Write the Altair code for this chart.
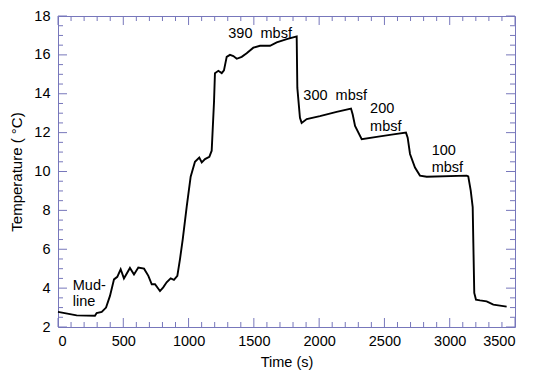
import altair as alt
import pandas as pd

# ---- data ----
time_s = [0, 143, 283, 296, 335, 368, 398, 429, 454, 480, 505, 551, 582, 615, 659, 692, 718, 743,
          781, 806, 832, 863, 888, 914, 934, 955, 986, 1016, 1049, 1082, 1101, 1126, 1159, 1177,
          1195, 1202, 1228, 1254, 1271, 1292, 1317, 1343, 1369, 1407, 1445, 1496, 1547, 1624, 1675,
          1752, 1815, 1828, 1833, 1853, 1866, 1905, 2006, 2134, 2244, 2257, 2275, 2326, 2441, 2568,
          2665, 2678, 2696, 2734, 2772, 2824, 3130, 3142, 3161, 3176, 3181, 3188, 3201, 3232, 3283,
          3334, 3385, 3436]
temp_c = [2.78, 2.6, 2.58, 2.72, 2.78, 3.0, 3.6, 4.45, 4.58, 4.97, 4.5, 5.04, 4.7, 5.06, 5.0, 4.63,
          4.2, 4.2, 3.85, 4.04, 4.3, 4.5, 4.43, 4.63, 5.48, 6.5, 8.2, 9.73, 10.5, 10.72, 10.47, 10.64,
          10.76, 11.07, 13.6, 15.06, 15.18, 15.06, 15.2, 15.9, 16.0, 15.94, 15.8, 15.9, 16.08, 16.37,
          16.47, 16.47, 16.64, 16.81, 16.93, 16.95, 14.3, 12.76, 12.5, 12.7, 12.85, 13.07, 13.24,
          12.93, 12.34, 11.66, 11.78, 11.91, 12.0, 11.74, 10.9, 10.2, 9.79, 9.73, 9.79, 9.75, 9.02,
          8.17, 6.3, 3.75, 3.41, 3.37, 3.32, 3.15, 3.1, 3.05]

label_text = ["Mud-", "line", "390\u00a0\u00a0mbsf", "300\u00a0\u00a0mbsf", "200", "mbsf", "100", "mbsf"]
label_t = [113, 113, 1304, 1879, 2390, 2390, 2862, 2862]
label_T = [4.09, 3.31, 17.05, 13.87, 13.19, 12.29, 11.03, 10.18]

x_major = [0, 500, 1000, 1500, 2000, 2500, 3000, 3500]
x_minor = [v for v in range(0, 3501, 100) if v % 500 != 0]
y_major = [2, 4, 6, 8, 10, 12, 14, 16, 18]
y_minor = [2.5 + 0.5 * i for i in range(31) if (2.5 + 0.5 * i) % 2 != 0]

W, H = 457, 311
FRAME = "#7777bb"
FONT = "Liberation Sans"
FS = 14.5

xs = alt.Scale(domain=[0, 3500], nice=False, zero=False)
ys = alt.Scale(domain=[2, 18], nice=False, zero=False)

ax_x = alt.Axis(values=x_major, format="d", tickSize=0, domain=False, grid=False,
                labelPadding=7, titlePadding=8, labelOverlap=False, title="Time (s)",
                labelFontSize=FS, titleFontSize=FS, titleFontWeight="normal",
                labelFont=FONT, titleFont=FONT, labelColor="black", titleColor="black")
ax_y = alt.Axis(values=y_major, format="d", tickSize=0, domain=False, grid=False,
                labelPadding=8, titlePadding=9, labelOverlap=False, title="Temperature ( °C)",
                labelFontSize=FS, titleFontSize=15, titleFontWeight="normal",
                labelFont=FONT, titleFont=FONT, labelColor="black", titleColor="black")

df = pd.DataFrame({"t": time_s, "T": temp_c})
lab = pd.DataFrame({"text": label_text, "t": label_t, "T": label_T})

line = alt.Chart(df).mark_line(color="black", strokeWidth=1.9).encode(
    x=alt.X("t:Q", scale=xs, axis=ax_x),
    y=alt.Y("T:Q", scale=ys, axis=ax_y),
)

texts = alt.Chart(lab).mark_text(align="left", baseline="middle", fontSize=FS,
                                 font=FONT, color="black").encode(
    x=alt.X("t:Q", scale=xs, axis=ax_x), y=alt.Y("T:Q", scale=ys, axis=ax_y), text="text:N")


def xticks(vals, length):
    d = pd.DataFrame({"v": vals})
    b = alt.Chart(d).mark_rule(color=FRAME, strokeWidth=1).encode(
        x=alt.X("v:Q", scale=xs, axis=ax_x), y=alt.value(H), y2=alt.value(H - length))
    t = alt.Chart(d).mark_rule(color=FRAME, strokeWidth=1).encode(
        x=alt.X("v:Q", scale=xs, axis=ax_x), y=alt.value(0), y2=alt.value(length))
    return [b, t]


def yticks(vals, length):
    d = pd.DataFrame({"v": vals})
    l = alt.Chart(d).mark_rule(color=FRAME, strokeWidth=1).encode(
        y=alt.Y("v:Q", scale=ys, axis=ax_y), x=alt.value(0), x2=alt.value(length))
    r = alt.Chart(d).mark_rule(color=FRAME, strokeWidth=1).encode(
        y=alt.Y("v:Q", scale=ys, axis=ax_y), x=alt.value(W), x2=alt.value(W - length))
    return [l, r]


layers = [line, texts] + xticks(x_major, 9) + xticks(x_minor, 5) + yticks(y_major, 9) + yticks(y_minor, 5)

chart = alt.layer(*layers).properties(
    width=W, height=H,
    background="white",
    autosize=alt.AutoSizeParams(type="none"),
    padding={"left": 50, "top": 8, "right": 10, "bottom": 50},
).configure_view(stroke=FRAME, strokeWidth=1)

chart.save("out.html", embed_options={"renderer": "svg", "actions": False})
